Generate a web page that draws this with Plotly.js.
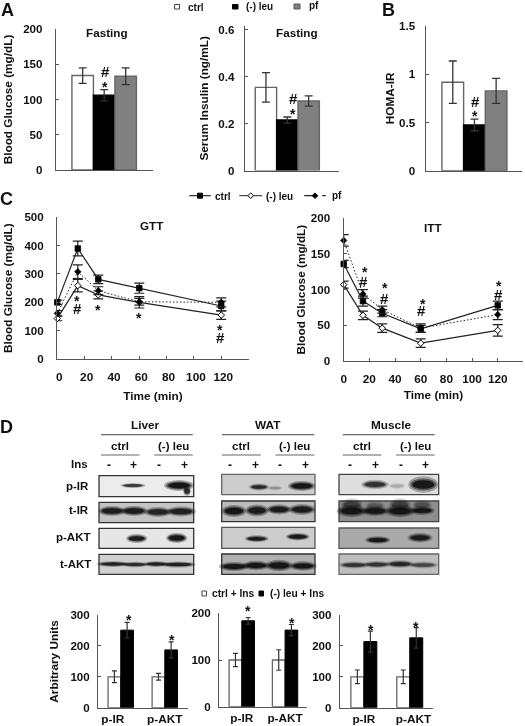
<!DOCTYPE html>
<html><head><meta charset="utf-8">
<script src="https://cdn.plot.ly/plotly-3.0.1.min.js"></script>
<style>html,body{margin:0;padding:0;background:#fff}#g{width:525px;height:726px}#g svg{filter:blur(.35px)}</style>
</head><body><div id="g"></div>
<script>
// ---------- data ----------
const groupsA = ['ctrl', '(-) leu', 'pf'];
const fastGlucose = [134, 106, 133];
const fastGlucoseErr = [11, 8, 12];
const fastInsulin = [0.354, 0.215, 0.296];
const fastInsulinErr = [0.063, 0.013, 0.022];
const homaIR = [0.917, 0.474, 0.827];
const homaIRErr = [0.22, 0.06, 0.13];

const timesMin = [0, 15, 30, 60, 120];
const gttCtrl = [200, 390, 281, 250, 187];
const gttCtrlErr = [8, 26, 15, 18, 17];
const gttLeu = [143, 259, 226, 200, 155];
const gttLeuErr = [8, 22, 14, 20, 15];
const gttPf = [161, 308, 241, 202, 200];
const gttPfErr = [10, 24, 14, 12, 16];
const ittCtrl = [136, 84, 67, 45, 78];
const ittCtrlErr = [5, 7, 5, 5, 6];
const ittLeu = [107, 64, 46, 25, 43];
const ittLeuErr = [5, 6, 6, 6, 8];
const ittPf = [169, 94, 72, 46, 65];
const ittPfErr = [8, 6, 5, 6, 7];

const proteins = ['p-IR', 'p-AKT'];
const liverCtrl = [100, 100], liverCtrlErr = [19, 11];
const liverLeu = [251, 187], liverLeuErr = [25, 26];
const watCtrl = [100, 100], watCtrlErr = [14, 22];
const watLeu = [184, 164], watLeuErr = [7, 12];
const muscleCtrl = [100, 100], muscleCtrlErr = [22, 22];
const muscleLeu = [214, 226], muscleLeuErr = [34, 33];

// ---------- page geometry helpers ----------
const W = 525, H = 726, FONT = 'Liberation Sans, Arial, sans-serif';
const px = x => x / W, py = y => 1 - y / H;
const AXC = '#555';
const layout = {
  width: W, height: H, margin: {l: 0, r: 0, t: 0, b: 0}, showlegend: false,
  paper_bgcolor: '#fff', plot_bgcolor: 'rgba(0,0,0,0)', barmode: 'overlay',
  font: {family: FONT, size: 12, color: '#111', weight: 700},
  shapes: [], annotations: []
};
const traces = [];
let n = 0;
function panel(box, yRange, xRange, yTicks, yOpts, xOpts) {
  n++;
  const s = n === 1 ? '' : String(n);
  layout['xaxis' + s] = Object.assign({
    domain: [px(box[0]), px(box[1])], range: xRange, anchor: 'y' + s, showgrid: false, zeroline: false,
    showline: true, linecolor: AXC, linewidth: 1.2, ticks: '', showticklabels: false,
    tickfont: {family: FONT, size: 11.8, weight: 700, color: '#111'}
  }, xOpts || {});
  layout['yaxis' + s] = Object.assign({
    domain: [py(box[3]), py(box[2])], range: yRange, anchor: 'x' + s, showgrid: false, zeroline: false,
    showline: true, linecolor: AXC, linewidth: 1.2, ticks: 'inside', ticklen: 3, tickcolor: AXC, tickwidth: 1,
    tickmode: 'array', tickvals: yTicks, ticktext: yTicks.map(String),
    tickfont: {family: FONT, size: 11.6, weight: 700, color: '#111'}
  }, yOpts || {});
  return {xaxis: 'x' + s, yaxis: 'y' + s};
}
function ytitle(text, standoff) { return {text, standoff, font: {family: FONT, size: 11.8, weight: 700, color: '#111'}}; }
function txt(text, x, y, size, extra) {
  layout.annotations.push(Object.assign({
    text, x: px(x), y: py(y), xref: 'paper', yref: 'paper', showarrow: false,
    xanchor: 'center', yanchor: 'middle', font: {family: FONT, size: size || 12, weight: 700, color: '#111'}, borderpad: 0
  }, extra || {}));
}
function left(text, x, y, size) { txt(text, x, y, size, {xanchor: 'left'}); }
function right(text, x, y, size) { txt(text, x, y, size, {xanchor: 'right'}); }
function rect(x0, x1, y0, y1, fill, line, lw) {
  layout.shapes.push({type: 'rect', xref: 'paper', yref: 'paper', x0: px(x0), x1: px(x1), y0: py(y0), y1: py(y1),
    fillcolor: fill, line: {color: line || fill, width: lw === undefined ? 1 : lw}});
}
function seg(x0, x1, y0, y1, c, w, dash) {
  layout.shapes.push({type: 'line', xref: 'paper', yref: 'paper', x0: px(x0), x1: px(x1), y0: py(y0), y1: py(y1),
    line: {color: c || '#333', width: w || 1.2, dash: dash || 'solid'}});
}
function ell(x0, x1, y0, y1, fill, op) {
  layout.shapes.push({type: 'circle', xref: 'paper', yref: 'paper', x0: px(x0), x1: px(x1), y0: py(y0), y1: py(y1),
    fillcolor: fill, opacity: op, line: {width: 0}});
}

// ---------- A / B bars ----------
const barFill = ['#ffffff', '#000000', '#808080'];
const barLine = ['#666666', '#000000', '#666666'];
function fastBars(box, xr, yr, ticks, vals, errs, title, standoff, sd2) {
  const ax = panel(box, yr, xr, ticks, {title: ytitle(title, standoff), ticklabelstandoff: sd2});
  traces.push(Object.assign({
    type: 'bar', x: [0, 1, 2], y: vals, width: 1, name: title,
    marker: {color: barFill, line: {color: barLine, width: 1.4}},
    error_y: {type: 'data', array: errs, visible: true, color: '#333', thickness: 1.3, width: 4}
  }, ax));
}
fastBars([56, 153, 29, 170], [-1.24, 3.27], [0, 200], [0, 50, 100, 150, 200], fastGlucose, fastGlucoseErr, 'Blood Glucose (mg/dL)', 8, 10);
fastBars([245, 339, 26, 170.6], [-0.98, 3.42], [0, 0.615], [0, 0.2, 0.4, 0.6], fastInsulin, fastInsulinErr, 'Serum Insulin (ng/mL)', 7, 7);
fastBars([425.7, 521.7, 26, 170.7], [-1.25, 3.18], [0, 1.5], [0, 0.5, 1, 1.5], homaIR, homaIRErr, 'HOMA-IR', 2, 7);

// ---------- C lines ----------
function lineChart(box, yr, yTicks, series, standoff, xtitleStandoff, shift) {
  const ax = panel(box, yr, [0, 140], yTicks,
    {title: ytitle('Blood Glucose (mg/dL)', standoff), ticklabelstandoff: 10},
    {tickmode: 'array', tickvals: [0, 20, 40, 60, 80, 100, 120], ticktext: ['0','20','40','60','80','100','120'],
     showticklabels: true, ticks: 'inside', ticklen: 3, tickcolor: AXC, ticklabelstandoff: 7, ticklabelshift: shift,
     title: {text: 'Time (min)', standoff: xtitleStandoff, font: {family: FONT, size: 11.8, weight: 700, color: '#111'}}});
  series.forEach(s => traces.push(Object.assign({
    type: 'scatter', mode: 'lines+markers', x: timesMin, y: s.y, name: s.name, cliponaxis: false,
    line: {color: '#222', width: s.w, dash: s.dash},
    marker: {symbol: s.sym, size: s.size, color: s.fill, line: {color: '#000', width: s.lw}},
    error_y: {type: 'data', array: s.err, visible: true, color: '#222', thickness: 1.2, width: 5}
  }, ax)));
}
const lineSeries = (c, ce, l, le, p, pe) => [
  {name: 'ctrl', y: c, err: ce, sym: 'square', size: 5.5, lw: .8, fill: '#000', w: 1.2, dash: 'solid'},
  {name: '(-) leu', y: l, err: le, sym: 'diamond', size: 5, lw: 1, fill: '#fff', w: 1.2, dash: 'solid'},
  {name: 'pf', y: p, err: pe, sym: 'diamond', size: 5, lw: .6, fill: '#000', w: 1, dash: '1.5px,2px'}
];
lineChart([57.3, 248.6, 217.3, 359], [0, 500], [0, 100, 200, 300, 400, 500], lineSeries(gttCtrl, gttCtrlErr, gttLeu, gttLeuErr, gttPf, gttPfErr), 9, 8, 2);
lineChart([343.7, 523.4, 218.3, 361], [0, 200], [0, 50, 100, 150, 200], lineSeries(ittCtrl, ittCtrlErr, ittLeu, ittLeuErr, ittPf, ittPfErr), 2, 5, 0);

// ---------- D quantification ----------
function quant(box, xr, labelX, ctrl, ctrlErr, leu, leuErr, yTicks, w, title) {
  const ax = panel(box, [0, yTicks[yTicks.length - 1]], xr, yTicks,
    {title: title ? ytitle(title, 9) : undefined, ticklabelstandoff: 5},
    {tickmode: 'array', tickvals: labelX, ticktext: proteins, showticklabels: true, ticklabelstandoff: 0});
  traces.push(Object.assign({type: 'bar', x: [0, 1], y: ctrl, width: w, offset: -w, name: 'ctrl + Ins',
    marker: {color: '#fff', line: {color: '#666', width: 1.3}},
    error_y: {type: 'data', array: ctrlErr, visible: true, color: '#333', thickness: 1.2, width: 2.5}}, ax));
  traces.push(Object.assign({type: 'bar', x: [0, 1], y: leu, width: w, offset: 0, name: '(-) leu + Ins',
    marker: {color: '#000', line: {color: '#000', width: 1}},
    error_y: {type: 'data', array: leuErr, visible: true, color: '#333', thickness: 1.2, width: 2.5}}, ax));
}
quant([98.3, 187.7, 615, 707.7], [-0.51, 1.52], [-0.18, 1], liverCtrl, liverCtrlErr, liverLeu, liverLeuErr, [0, 100, 200, 300], 0.288, 'Arbitrary Units');
quant([219.3, 306.7, 613.3, 706.7], [-0.52, 1.5], [0, 1], watCtrl, watCtrlErr, watLeu, watLeuErr, [0, 100, 200], 0.293);
quant([340, 432.7, 615, 707.7], [-0.52, 1.5], [0, 1.08], muscleCtrl, muscleCtrlErr, muscleLeu, muscleLeuErr, [0, 100, 200, 300], 0.283);

// ---------- panel letters, headings, marks ----------
[['A', 7, 10], ['B', 388, 10], ['C', 6, 199], ['D', 6, 427]].forEach(t => txt(t[0], t[1], t[2], 18));
txt('Fasting', 107.3, 32, 11.7); txt('Fasting', 297.3, 32, 11.7);
txt('GTT', 151.7, 226, 11.7); txt('ITT', 433.3, 227, 11.7);
const hashMarks = [[105, 71], [293.3, 99], [475, 101], [77.3, 308], [220, 338], [363.7, 281], [384, 298], [421.7, 311], [498.3, 294]];
const starMarks = [[105, 87], [293.3, 114], [475, 116], [77.3, 301], [98, 310], [139, 318], [220, 330], [365, 272], [385, 288], [423, 304], [499, 286],
  [128.5, 620], [171.7, 640], [248, 611], [291.7, 623], [371, 630], [416, 627]];
hashMarks.forEach(p => txt('#', p[0], p[1], 15));
starMarks.forEach(p => txt('*', p[0], p[1], 14));

// legend A
rect(174.5, 179.5, 4.5, 9, '#fff', '#444');
left('ctrl', 186.5, 7, 10);
rect(232.5, 238, 4.5, 9, '#000', '#000');
left('(-) leu', 245, 6.5, 10);
rect(294, 300, 4, 9, '#808080', '#555');
left('pf', 308, 6, 10);

// legend C
seg(189.3, 210.7, 195.7, 195.7, '#222', 1.2);
rect(197.5, 202.5, 193.2, 198.2, '#000', '#000');
left('ctrl', 214, 196, 10);
seg(239.3, 262, 195.7, 195.7, '#222', 1);
layout.shapes.push({type: 'path', xref: 'paper', yref: 'paper',
  path: `M${px(250.7)},${py(192.9)} L${px(253.5)},${py(195.7)} L${px(250.7)},${py(198.5)} L${px(247.9)},${py(195.7)} Z`,
  fillcolor: '#fff', line: {color: '#000', width: 1}});
left('(-) leu', 265, 196, 10);
seg(304.3, 325.7, 195.7, 195.7, '#222', 1.2, 'dash');
layout.shapes.push({type: 'path', xref: 'paper', yref: 'paper',
  path: `M${px(315)},${py(192.9)} L${px(317.8)},${py(195.7)} L${px(315)},${py(198.5)} L${px(312.2)},${py(195.7)} Z`,
  fillcolor: '#000', line: {color: '#000', width: 1}});
left('pf', 331, 195.5, 10);

// legend D
rect(202, 206.5, 591, 596, '#fff', '#444');
left('ctrl + Ins', 211, 593.5, 10.2);
rect(259, 263.5, 591, 596, '#000', '#000');
left('(-) leu + Ins', 269, 593.5, 10.2);

// ---------- D blot headers ----------
const tissues = ['Liver', 'WAT', 'Muscle'];
const tissueX = [145.7, 268, 391];
const spans = [[101, 192.7], [222, 314.3], [342.7, 434.7]];
const signColumns = [[108.7, 133.3, 159.3, 184], [230, 255, 280.3, 305.7], [350, 375, 400.7, 425.3]];
const insSigns = ['-', '+', '-', '+'];
tissues.forEach((t, i) => {
  const [a, b] = spans[i], mid1 = a + (b - a) * 0.21, mid2 = a + (b - a) * 0.79;
  txt(t, tissueX[i], 424.5, 11.8);
  seg(a, b, 434.7, 434.7, '#444', 1.1);
  txt('ctrl', mid1, 445.7, 11.5);
  txt('(-) leu', mid2, 445.7, 11.5);
  seg(a, a + (b - a) * 0.42, 455, 455, '#666', 1.1);
  seg(a + (b - a) * 0.58, b, 455, 455, '#666', 1.1);
  signColumns[i].forEach((x, k) => txt(insSigns[k], x, 465.5, 12));
});
txt('Ins', 79.3, 464.3, 11.5);
right('p-IR', 89.5, 485.7, 11.5); right('t-IR', 89.5, 510, 11.5);
right('p-AKT', 91.7, 536.7, 11.5); right('t-AKT', 91.7, 564.3, 11.5);

// ---------- D blot images, as soft bands: [x, y, half-width, half-height, darkness] ----------
const blots = [
  {box: [99, 193.7, 475.7, 496.7], bg: '#ececec', edge: '#333', bands: [[133, 485.5, 10, 1.4, .75], [179, 485.5, 12, 3.2, 1], [187, 491, 3, 3, .8]]},
  {box: [99, 193.7, 502.3, 522.7], bg: '#c4c4c4', edge: '#333', bands: [[112, 511, 11, 3, .95], [134, 511, 11, 3, .95], [158, 512, 11, 3, .85], [181, 511.5, 12, 3, .9]]},
  {box: [99, 193.7, 528.3, 548.3], bg: '#e6e6e6', edge: '#333', bands: [[136.7, 538.5, 8.5, 2.6, .95], [176.7, 538, 8.5, 3, 1]]},
  {box: [99, 193.7, 554.3, 574.3], bg: '#d0d0d0', edge: '#333', bands: [[113, 564, 13, 1.7, .9], [135, 564.5, 11, 1.6, .8], [156, 564, 10, 1.7, .9], [178, 564.5, 14, 1.8, .9]]},
  {box: [221.7, 315, 474.3, 494.7], bg: '#cdcdcd', edge: '#666', bands: [[259, 487, 8, 2, .8], [275, 488, 6, 1.5, .2], [301.7, 486, 11, 3, 1]]},
  {box: [221.7, 315, 501, 521.7], bg: '#bdbdbd', edge: '#333', bands: [[234, 511, 10, 3.6, 1], [257, 510.5, 9.5, 3.6, .95], [279, 509.5, 10, 3, .95], [302, 509.5, 11, 3.2, .95]]},
  {box: [221.7, 315, 527.3, 548.3], bg: '#cccccc', edge: '#555', bands: [[256.7, 538.7, 9.5, 2, .95], [297.7, 536.7, 9.5, 2.2, 1]]},
  {box: [221.7, 315, 554, 574.3], bg: '#b0b0b0', edge: '#333', bands: [[234, 566.5, 12, 2.7, 1], [256, 565.5, 11, 2.8, 1], [279, 565.5, 11, 3.4, 1], [303, 566, 11, 2.8, 1]]},
  {box: [339, 438.7, 474.3, 494.7], bg: '#dedede', edge: '#444', bands: [[375, 484.5, 11, 2.8, .75], [397, 486, 7, 2, .15], [423.3, 484.5, 12, 4.8, 1]]},
  {box: [339, 438.7, 501, 521.7], bg: '#8e8e8e', edge: '#444', bands: [[351.7, 505, 9, 4, .5], [375, 506, 8, 3, .3], [400, 505, 9, 4, .5], [422, 505, 8, 3, .35], [351.7, 511, 12, 3.6, 1], [375, 511, 11, 3, 1], [400, 511, 12, 3.6, 1], [422, 510.5, 10, 2.6, 1]]},
  {box: [339, 438.7, 528, 548.3], bg: '#aaaaaa', edge: '#555', bands: [[377.7, 540, 10, 2.2, 1], [420, 537.7, 10, 2.8, .95]]},
  {box: [339, 438.7, 554, 574.3], bg: '#bebebe', edge: '#666', bands: [[354, 565, 12, 2, .7], [377, 564.5, 11, 2, .7], [400, 564, 11, 2.2, .8], [423, 565, 12, 2, .55]]}
];
blots.forEach(b => {
  const [l, r, t, bt] = b.box;
  rect(l, r, t, bt, b.bg, b.edge, 1.3);
  b.bands.forEach(([x, y, hw, hh, d]) => {
    [[1.25, 1.7, .3], [1.08, 1.25, .5], [.92, .9, .9]].forEach(([sx, sy, o]) =>
      ell(x - hw * sx, x + hw * sx, y - hh * sy, y + hh * sy, '#111', o * d));
  });
});

Plotly.newPlot('g', traces, layout, {staticPlot: true, displayModeBar: false});
</script></body></html>
